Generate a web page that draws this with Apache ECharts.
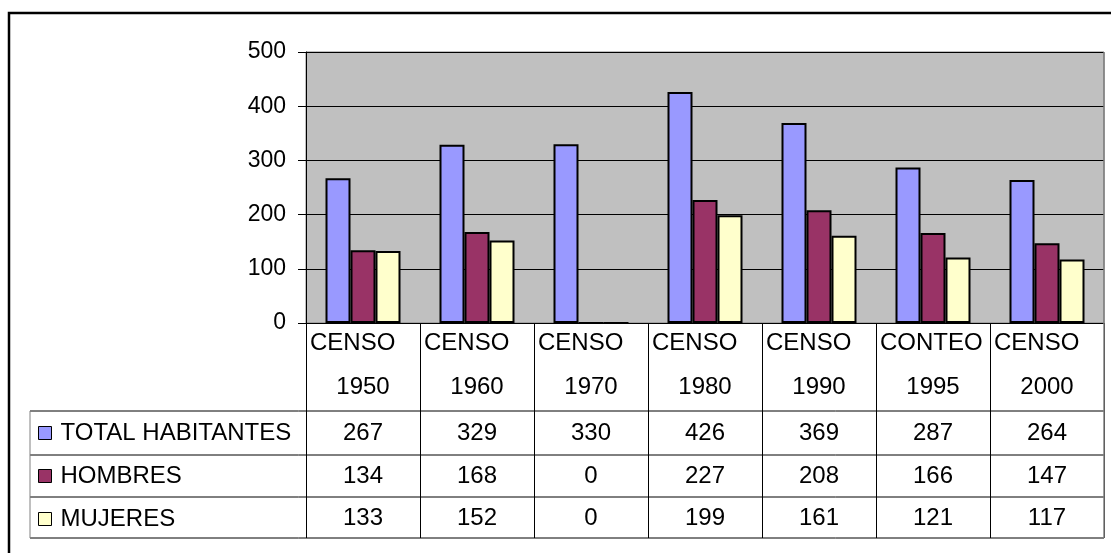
<!DOCTYPE html>
<html>
<head>
<meta charset="utf-8">
<script src="https://cdn.jsdelivr.net/npm/echarts@6/dist/echarts.min.js"></script>
<style>
html,body{margin:0;padding:0;background:#fff;}
#chart{width:1111px;height:553px;}
</style>
</head>
<body>
<div id="chart"></div>
<script>
const catType = ['CENSO','CENSO','CENSO','CENSO','CENSO','CONTEO','CENSO'];
const catYear = ['1950','1960','1970','1980','1990','1995','2000'];
const seriesNames = ['TOTAL HABITANTES','HOMBRES','MUJERES'];
const total = [267,329,330,426,369,287,264];
const hombres = [134,168,0,227,208,166,147];
const mujeres = [133,152,0,199,161,121,117];
const yTicks = [0,100,200,300,400,500];

const FONT = 'Liberation Sans';
const FS = 24;
const colors = ['#9999FF','#993366','#FFFFCC'];
const values = [total, hombres, mujeres];

const G = {left:306, top:52, width:798, height:271};
const tableRows = [411, 455, 497, 538];
const tableLeft = 30;

const chart = echarts.init(document.getElementById('chart'), null, {renderer:'canvas'});
const categories = catType.map((t,i)=>t+' '+catYear[i]);

const graphics = [];
tableRows.forEach(y=>{
  graphics.push({type:'line', silent:true, z:10,
    shape:{x1:tableLeft, y1:y, x2:G.left+G.width, y2:y},
    style:{stroke:'#000', lineWidth:1}});
});
graphics.push({type:'line', silent:true, z:10,
  shape:{x1:tableLeft, y1:tableRows[0], x2:tableLeft, y2:tableRows[3]},
  style:{stroke:'#808080', lineWidth:1}});
graphics.push({type:'line', silent:true, z:10,
  shape:{x1:G.left+G.width, y1:G.top, x2:G.left+G.width, y2:tableRows[3]},
  style:{stroke:'#808080', lineWidth:1.5}});
graphics.push({type:'rect', silent:true, z:0,
  shape:{x:9, y:13, width:1200, height:700},
  style:{fill:'none', stroke:'#000', lineWidth:2.5}});

const option = {
  animation:false,
  backgroundColor:'#fff',
  textStyle:{fontFamily:FONT},
  grid:{left:G.left, top:G.top, width:G.width, height:G.height,
        show:true, backgroundColor:'#C0C0C0', borderColor:'#808080', borderWidth:1},
  legend:{
    orient:'vertical', left:38, top:421, padding:0,
    itemWidth:13, itemHeight:13, itemGap:19,
    icon:'rect',
    itemStyle:{borderColor:'#000', borderWidth:1},
    textStyle:{fontFamily:FONT, fontSize:FS, color:'#000', lineHeight:22, padding:[0,0,0,4]},
    data:seriesNames
  },
  xAxis:{
    type:'category', data:categories,
    axisLine:{lineStyle:{color:'#000', width:1}},
    axisTick:{show:true, length:215, lineStyle:{color:'#000', width:1}},
    axisLabel:{
      interval:0, margin:0, color:'#000', fontFamily:FONT, fontSize:FS,
      formatter:function(v, i){
        return '{a|'+catType[i]+'}\n{b|'+catYear[i]+'}\n{c|'+total[i]+'}\n{d|'+hombres[i]+'}\n{e|'+mujeres[i]+'}';
      },
      rich:{
        a:{width:106, align:'left', lineHeight:40, fontSize:FS, fontFamily:FONT, color:'#000'},
        b:{width:106, align:'center', lineHeight:48, fontSize:FS, fontFamily:FONT, color:'#000'},
        c:{width:106, align:'center', lineHeight:44, fontSize:FS, fontFamily:FONT, color:'#000'},
        d:{width:106, align:'center', lineHeight:42, fontSize:FS, fontFamily:FONT, color:'#000'},
        e:{width:106, align:'center', lineHeight:42, fontSize:FS, fontFamily:FONT, color:'#000'}
      }
    },
    splitLine:{show:false}
  },
  yAxis:{
    type:'value', min:yTicks[0], max:yTicks[yTicks.length-1], interval:100,
    axisLine:{show:true, lineStyle:{color:'#000', width:1}},
    axisTick:{show:true, length:8, lineStyle:{color:'#000'}},
    axisLabel:{color:'#000', fontFamily:FONT, fontSize:23, margin:20},
    splitLine:{show:true, lineStyle:{color:'#000', width:1}}
  },
  series: seriesNames.map((n,k)=>({
    name:n, type:'bar', data:values[k],
    barWidth:25, barGap:'0%',
    itemStyle:{color:colors[k], borderColor:'#000', borderWidth:2}
  })),
  graphic:graphics
};
chart.setOption(option);
</script>
</body>
</html>
